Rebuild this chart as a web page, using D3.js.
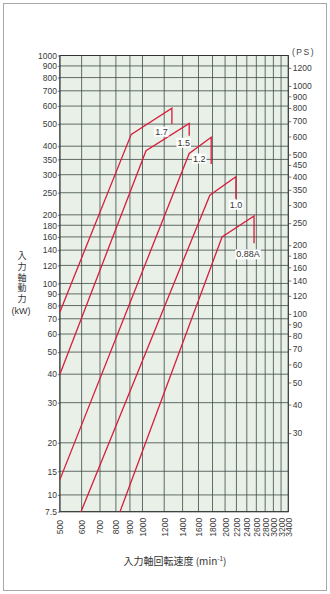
<!DOCTYPE html>
<html>
<head>
<meta charset="utf-8">
<script src="https://cdn.jsdelivr.net/npm/d3@7"></script>
<style>
  html, body { margin: 0; padding: 0; background: #fff; }
  svg { display: block; }
</style>
</head>
<body>
<svg id="chart" width="330" height="594"></svg>
<script>
// Input shaft speed ticks (min^-1)
const rpmTicks = [500, 600, 700, 800, 900, 1000, 1200, 1400, 1600, 1800, 2000, 2200, 2400, 2600, 2800, 3000, 3200, 3400];
// Input shaft power ticks (kW, left) and (PS, right)
const kwTicks = [7.5, 10, 15, 20, 30, 40, 50, 60, 70, 80, 90, 100, 120, 140, 160, 180, 200, 250, 300, 350, 400, 500, 600, 700, 800, 900, 1000];
const psTicks = [30, 40, 50, 60, 70, 80, 90, 100, 120, 140, 160, 180, 200, 250, 300, 350, 400, 450, 500, 600, 700, 800, 900, 1000, 1200];

// Power curves per model size
const curveNames = ["1.7", "1.5", "1.2", "1.0", "0.88A"];
const startRpm = [500, 500, 500, 597, 828];
const startKw  = [75, 40, 13, 7.5, 7.5];
const kneeRpm  = [910, 1030, 1480, 1760, 1950];
const kneeKw   = [451, 382, 372, 244, 160];
const peakRpm  = [1280, 1480, 1780, 2190, 2550];
const peakKw   = [587, 504, 438, 294, 198];
const endKw    = [500, 445, 334, 235, 150];

const KW_PER_PS = 0.7355;

const svg = d3.select("#chart");
const W = 330, H = 594;
const plot = { left: 59.9, right: 288.3, top: 55.5, bottom: 511.7 };

const x = d3.scaleLog().domain([500, 3400]).range([plot.left, plot.right]);
// The band below 15 kW is compressed on the chart
const yBreak = plot.top + (plot.bottom - plot.top) * 0.9114;
const y = d3.scaleLog().domain([7.5, 15, 1000]).range([plot.bottom, yBreak, plot.top]);
const yPs = d3.scaleLog().domain(y.domain().map(d => d / KW_PER_PS)).range(y.range());

const tickFont = "'Liberation Sans', Arial, sans-serif";
const jpFont = "'Noto Sans CJK JP', sans-serif";
const gridColor = "#3d4a46";
const red = "#d81e3c";

// Outer frame
svg.append("rect")
  .attr("x", 3.5).attr("y", 3.5).attr("width", W - 7).attr("height", H - 7)
  .attr("fill", "none").attr("stroke", "#a8a8a8").attr("stroke-width", 1);

// Plot background
svg.append("rect")
  .attr("x", plot.left).attr("y", plot.top)
  .attr("width", plot.right - plot.left).attr("height", plot.bottom - plot.top)
  .attr("fill", "#e8f0e7");

// Grid
const grid = svg.append("g").attr("stroke", gridColor).attr("stroke-width", 0.8);
grid.selectAll("line.h").data(kwTicks).join("line")
  .attr("class", "h")
  .attr("x1", plot.left).attr("x2", plot.right)
  .attr("y1", d => y(d)).attr("y2", d => y(d));
grid.selectAll("line.v").data(rpmTicks).join("line")
  .attr("class", "v")
  .attr("y1", plot.top).attr("y2", plot.bottom)
  .attr("x1", d => x(d)).attr("x2", d => x(d));

// Left axis (kW)
const axL = svg.append("g")
  .attr("transform", `translate(${plot.left},0)`)
  .call(d3.axisLeft(y).tickValues(kwTicks).tickSize(2).tickPadding(1).tickFormat(d => d));
// Right axis (PS)
const axR = svg.append("g")
  .attr("transform", `translate(${plot.right},0)`)
  .call(d3.axisRight(yPs).tickValues(psTicks).tickSize(3).tickPadding(1.5).tickFormat(d => d));
// Bottom axis (min^-1)
const axB = svg.append("g")
  .attr("transform", `translate(0,${plot.bottom})`)
  .call(d3.axisBottom(x).tickValues(rpmTicks).tickSize(0).tickFormat(d => d));

[axL, axR, axB].forEach(ax => {
  ax.select(".domain").remove();
  ax.selectAll(".tick line").attr("stroke", "#555").attr("stroke-width", 0.8);
  ax.selectAll("text")
    .attr("fill", "#3a3a3a")
    .style("font-family", tickFont)
    .style("font-size", "8.5px");
});
axB.selectAll("text")
  .attr("transform", "rotate(-90)")
  .attr("x", -15.5).attr("y", 0).attr("dy", "0.35em")
  .attr("text-anchor", "middle");

// Plot border
svg.append("rect")
  .attr("x", plot.left).attr("y", plot.top)
  .attr("width", plot.right - plot.left).attr("height", plot.bottom - plot.top)
  .attr("fill", "none").attr("stroke", "#333").attr("stroke-width", 1);

// Curves
const line = d3.line().x(d => x(d[0])).y(d => y(d[1]));
const curves = curveNames.map((name, i) => ({
  name,
  pts: [[startRpm[i], startKw[i]], [kneeRpm[i], kneeKw[i]], [peakRpm[i], peakKw[i]], [peakRpm[i], endKw[i]]]
}));
svg.append("g").selectAll("path").data(curves).join("path")
  .attr("d", d => line(d.pts))
  .attr("fill", "none").attr("stroke", red).attr("stroke-width", 1.3)
  .attr("stroke-linejoin", "miter");

// Curve labels, placed from the foot of each drop line
const labelDx = [-10.5, -5.5, -12, 0, -6];
const labelDy = [7.4, 7, -5.7, 5.7, 10.9];
const labels = svg.append("g").selectAll("g").data(curves).join("g")
  .attr("transform", (d, i) => `translate(${x(peakRpm[i]) + labelDx[i]},${y(endKw[i]) + labelDy[i]})`);
labels.append("text")
  .attr("text-anchor", "middle").attr("dy", "0.35em")
  .attr("fill", "#333")
  .style("font-family", tickFont).style("font-size", "9px")
  .text(d => d.name);
labels.each(function () {
  const g = d3.select(this);
  const b = g.select("text").node().getBBox();
  g.insert("rect", "text")
    .attr("x", b.x - 1).attr("y", b.y).attr("width", b.width + 2).attr("height", b.height)
    .attr("fill", "#fff");
});

// Unit label for right axis
svg.append("text")
  .attr("x", 292).attr("y", 55)
  .attr("fill", "#444").style("font-family", tickFont).style("font-size", "8.5px")
  .style("letter-spacing", "1.5px")
  .text("(PS)");

// Y-axis title, set vertically
svg.append("text")
  .attr("x", 22).attr("y", 251)
  .attr("fill", "#333").style("font-family", jpFont).style("font-size", "9px")
  .style("writing-mode", "vertical-rl").style("text-orientation", "upright")
  .style("letter-spacing", "1.8px")
  .text("入力軸動力");
svg.append("text")
  .attr("x", 21).attr("y", 313.5).attr("text-anchor", "middle")
  .attr("fill", "#333").style("font-family", tickFont).style("font-size", "9px")
  .text("(kW)");

// X-axis title
const xt = svg.append("text")
  .attr("x", 175).attr("y", 565).attr("text-anchor", "middle")
  .attr("fill", "#333").style("font-family", jpFont).style("font-size", "10px");
xt.append("tspan").text("入力軸回転速度 (min");
xt.append("tspan").attr("dy", -4).style("font-size", "6.5px").text("-1");
xt.append("tspan").attr("dy", 4).text(")");
</script>
</body>
</html>
